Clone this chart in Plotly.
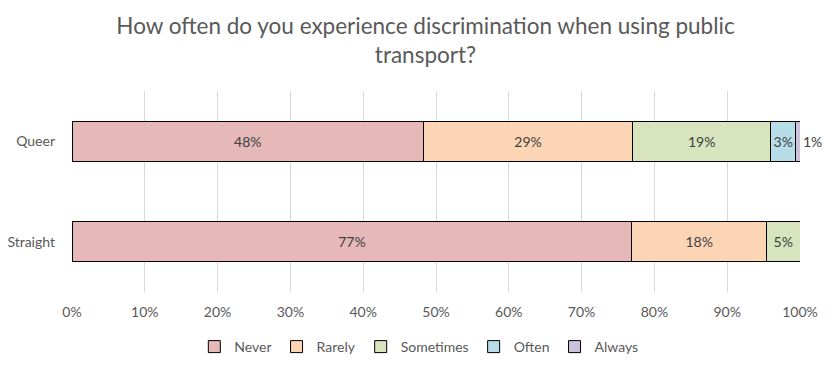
import plotly.graph_objects as go

categories = ["Queer", "Straight"]
series_names = ["Never", "Rarely", "Sometimes", "Often", "Always"]
never = [48.3, 76.9]
rarely = [28.7, 18.5]
sometimes = [19.0, 4.6]
often = [3.4, None]
always = [0.6, None]
colors = ["#E6B9B8", "#FCD5B5", "#D7E4BD", "#B7DEE8", "#CCC1DA"]
tick_vals = [0, 10, 20, 30, 40, 50, 60, 70, 80, 90, 100]
tick_text = ["0%", "10%", "20%", "30%", "40%", "50%", "60%", "70%", "80%", "90%", "100%"]
title_text = "How often do you experience discrimination when using public<br>transport?"

FONT = "Lato, 'Open Sans', sans-serif"

fig = go.Figure()
for name, vals, col in zip(series_names, [never, rarely, sometimes, often, always], colors):
    labels = ["" if v is None else f"{round(v)}%" for v in vals]
    fig.add_trace(go.Bar(
        name=name, y=categories, x=vals, orientation="h",
        marker=dict(color=col, line=dict(color="#000000", width=1)),
        text=labels,
        textposition="outside" if name == "Always" else "inside",
        insidetextanchor="middle",
        constraintext="none",
        textangle=0,
        textfont=dict(family=FONT, size=14, color="#404040"),
        cliponaxis=False,
        width=0.4,
        hoverinfo="skip",
    ))

fig.update_layout(
    barmode="stack",
    width=835, height=368,
    margin=dict(l=64, r=43, t=83, b=84, autoexpand=False),
    paper_bgcolor="white", plot_bgcolor="white",
    font=dict(family=FONT, size=14, color="#595959"),
    title=dict(text=title_text, x=0.5, xanchor="center", xref="container",
               y=0.93, yanchor="top", yref="container",
               font=dict(family=FONT, size=22.5, color="#595959")),
    showlegend=True,
    legend=dict(orientation="h", x=0.492, xanchor="center", xref="container",
                y=1 - 339 / 368, yanchor="middle", yref="container",
                font=dict(family=FONT, size=14, color="#595959"),
                itemwidth=30, traceorder="normal"),
)
fig.update_xaxes(range=[0, 100], tickvals=tick_vals, ticktext=tick_text,
                 showgrid=True, gridcolor="#D9D9D9", gridwidth=1, automargin=False,
                 zeroline=False, showline=False, ticks="", ticklabelstandoff=10,
                 tickfont=dict(family=FONT, size=14, color="#595959"))
fig.update_yaxes(autorange="reversed", showgrid=False, zeroline=False, showline=False,
                 ticks="", ticklabelstandoff=16, automargin=False,
                 tickfont=dict(family=FONT, size=14, color="#595959"))

fig.write_html("out.html")
